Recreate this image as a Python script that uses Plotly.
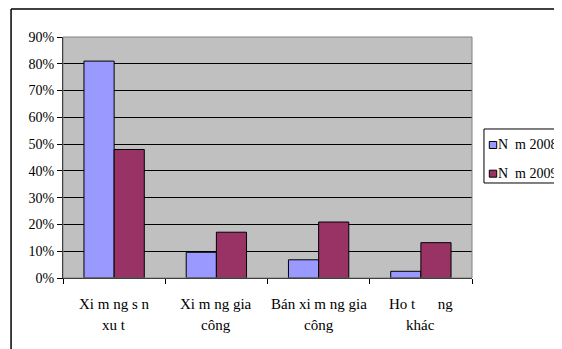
import plotly.graph_objects as go

categories = ["Xi m ng s n\nxu t", "Xi m ng gia\ncông", "Bán xi m ng gia\ncông", "Ho t      ng\nkhác"]
series_names = ["N  m 2008", "N  m 2009"]
series_colors = ["#9999FF", "#993366"]
values_2008 = [0.81, 0.096, 0.068, 0.025]
values_2009 = [0.48, 0.171, 0.209, 0.132]
y_ticks = [0, 0.1, 0.2, 0.3, 0.4, 0.5, 0.6, 0.7, 0.8, 0.9]
y_tick_labels = ["0%", "10%", "20%", "30%", "40%", "50%", "60%", "70%", "80%", "90%"]

font_family = "Times New Roman"

fig = go.Figure()
for name, vals, col in zip(series_names, [values_2008, values_2009], series_colors):
    fig.add_trace(go.Bar(x=categories, y=vals, name=name,
                         marker=dict(color=col, line=dict(color="black", width=1))))

annotations = []
for c in categories:
    l1, l2 = c.split("\n")
    annotations.append(dict(x=c, y=-0.106, xref="x", yref="paper", text=l1, showarrow=False,
                            yanchor="middle", xanchor="center",
                            font=dict(family=font_family, size=15, color="black")))
    annotations.append(dict(x=c, y=-0.197, xref="x", yref="paper", text=l2, showarrow=False,
                            yanchor="middle", xanchor="center",
                            font=dict(family=font_family, size=15, color="black")))

# custom legend (box, swatches, labels) in paper coordinates
shapes = [
    dict(type="rect", xref="paper", yref="paper", x0=0, x1=1, y0=0, y1=1,
         line=dict(color="#808080", width=1), fillcolor="rgba(0,0,0,0)", layer="above"),
    dict(type="line", xref="paper", yref="paper", x0=-0.127, x1=1.3, y0=1.116, y1=1.116,
         line=dict(color="black", width=1.5)),
    dict(type="line", xref="paper", yref="paper", x0=-0.127, x1=-0.127, y0=1.116, y1=-0.4,
         line=dict(color="black", width=1.5)),
    dict(type="rect", xref="paper", yref="paper", x0=1.0293, x1=1.3, y0=0.3942, y1=0.6183,
         line=dict(color="black", width=1), fillcolor="white"),
]
legend_y = [0.5519, 0.4328]
for name, col, ly in zip(series_names, series_colors, legend_y):
    shapes.append(dict(type="rect", xref="paper", yref="paper", x0=1.0423, x1=1.0604,
                       y0=ly - 0.0145, y1=ly + 0.0145,
                       line=dict(color="black", width=1), fillcolor=col))
    annotations.append(dict(x=1.0595, y=ly, xref="paper", yref="paper", text=name,
                            showarrow=False, xanchor="left", yanchor="middle",
                            font=dict(family=font_family, size=14, color="black")))

fig.update_layout(
    width=554, height=341,
    margin=dict(l=55, r=90, t=29, b=71, autoexpand=False),
    paper_bgcolor="white",
    plot_bgcolor="#C0C0C0",
    barmode="group",
    bargap=0.41,
    bargroupgap=0,
    showlegend=False,
    font=dict(family=font_family, size=14, color="black"),
    annotations=annotations,
    shapes=shapes,
    xaxis=dict(showticklabels=False, ticks="outside", ticklen=5, tickcolor="black",
               tickson="boundaries", showline=True, linecolor="black", linewidth=1,
               showgrid=False, zeroline=False),
    yaxis=dict(range=[0, 0.9], tickvals=y_ticks, ticktext=y_tick_labels,
               ticks="outside", ticklen=5, tickcolor="black",
               tickfont=dict(family=font_family, size=14, color="black"),
               showline=True, linecolor="black", linewidth=1,
               showgrid=True, gridcolor="black", gridwidth=1, zeroline=False),
)

fig.write_html("out.html")
